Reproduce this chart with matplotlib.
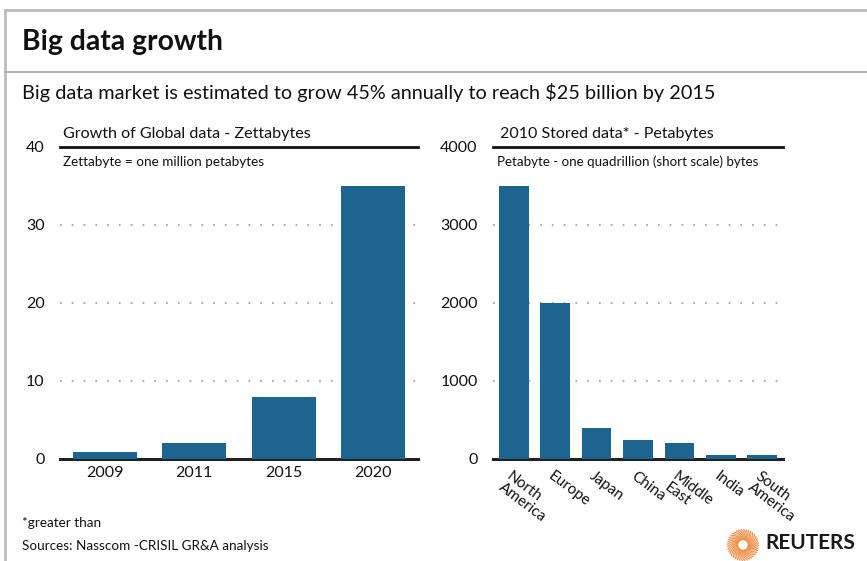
import numpy as np
import matplotlib.pyplot as plt
from matplotlib.lines import Line2D

plt.rcParams['font.family'] = ['Lato', 'DejaVu Sans']

years = ['2009', '2011', '2015', '2020']
zettabytes = [0.9, 2, 8, 35]

regions = ['North\nAmerica', 'Europe', 'Japan', 'China', 'Middle\nEast', 'India', 'South\nAmerica']
petabytes = [3500, 2000, 400, 250, 200, 50, 50]

W, H = 867, 561
bar_color = '#1d6590'
grid_color = '#b0b0b0'

fig = plt.figure(figsize=(W / 100, H / 100), dpi=100)


def px(x, y):
    return x / W, 1 - y / H


def frame(x0, y0, w, h):
    return [x0 / W, 1 - (y0 + h) / H, w / W, h / H]


# outer frame and header separator
fig.add_artist(Line2D([5 / W, 1], [1 - 10 / H] * 2, color='#bdbdbd', lw=2))
fig.add_artist(Line2D([5 / W] * 2, [0, 1 - 10 / H], color='#bdbdbd', lw=2))
fig.add_artist(Line2D([5 / W, 1], [1 - 72 / H] * 2, color='#a8a8a8', lw=1.2))

fig.text(*px(22, 42), 'Big data growth', fontsize=20.3, fontweight='bold',
         va='center', ha='left', color='#111111')
fig.text(*px(22, 93), 'Big data market is estimated to grow 45% annually to reach $25 billion by 2015',
         fontsize=14.3, va='center', ha='left', color='#111111')


def style_axes(ax, top, ticks, nbars):
    ax.set_xlim(-0.5, nbars - 0.5)
    ax.set_ylim(0, top)
    for s in ax.spines.values():
        s.set_visible(False)
    ax.set_yticks(ticks)
    ax.tick_params(axis='y', length=0, pad=11, labelsize=11.5, labelcolor='#111111')
    ax.tick_params(axis='x', length=0)
    for t in ticks[1:-1]:
        ax.axhline(t, color=grid_color, lw=1.6, ls=(0, (0.8, 4.5)), zorder=0)
    ax.axhline(top, color='#111111', lw=2, zorder=3, clip_on=False)
    ax.axhline(0, color='#222222', lw=2.2, zorder=1, clip_on=False)
    ax.patch.set_alpha(0)


# left panel: global data
ax1 = fig.add_axes(frame(60, 147, 358, 312))
ax1.bar(range(len(years)), zettabytes, width=0.72, color=bar_color, zorder=2)
style_axes(ax1, 40, [0, 10, 20, 30, 40], len(years))
ax1.set_xticks(range(len(years)))
ax1.set_xticklabels(years, fontsize=11.5, color='#111111')
ax1.tick_params(axis='x', pad=5)
fig.text(*px(63, 134), 'Growth of Global data - Zettabytes', fontsize=11.6, va='center', ha='left', color='#111111')
fig.text(*px(63, 162), 'Zettabyte = one million petabytes', fontsize=9.7, va='center', ha='left', color='#111111')

# right panel: stored data by region
ax2 = fig.add_axes(frame(493, 147, 290, 312))
ax2.bar(range(len(regions)), petabytes, width=0.72, color=bar_color, zorder=2)
style_axes(ax2, 4000, [0, 1000, 2000, 3000, 4000], len(regions))
ax2.set_xticks([])
for i, name in enumerate(regions):
    xa = ax2.transData.transform((i, 0))[0] / fig.dpi / fig.get_figwidth()
    fig.text(xa - 1 / W, 1 - 469 / H, name, rotation=-37, rotation_mode='anchor',
             ha='left', va='top', multialignment='left', fontsize=11,
             color='#111111', linespacing=0.95)
fig.text(*px(500, 134), '2010 Stored data* - Petabytes', fontsize=11.5, va='center', ha='left', color='#111111')
fig.text(*px(497, 162), 'Petabyte - one quadrillion (short scale) bytes', fontsize=9.6, va='center', ha='left', color='#111111')

# footnotes
fig.text(*px(22, 523), '*greater than', fontsize=9.7, va='center', ha='left', color='#111111')
fig.text(*px(22, 546), 'Sources: Nasscom -CRISIL GR&A analysis', fontsize=9.7, va='center', ha='left', color='#111111')

# Reuters mark: rays swirling round an open centre
logo = fig.add_axes(frame(726, 528, 34, 34))
logo.set_xlim(-1.1, 1.1)
logo.set_ylim(-1.1, 1.1)
logo.set_aspect('equal')
logo.axis('off')
r = np.linspace(0.35, 1.0, 20)
for k in range(40):
    a = 2 * np.pi * k / 40
    th = a + 0.9 * r
    logo.plot(r * np.cos(th), r * np.sin(th), color='#f0863a', lw=0.9, alpha=0.85)
fig.text(*px(765, 543), 'REUTERS', fontsize=15, fontweight='bold', va='center', ha='left', color='#1a1a1a')

fig.savefig('out.png', dpi=100)
